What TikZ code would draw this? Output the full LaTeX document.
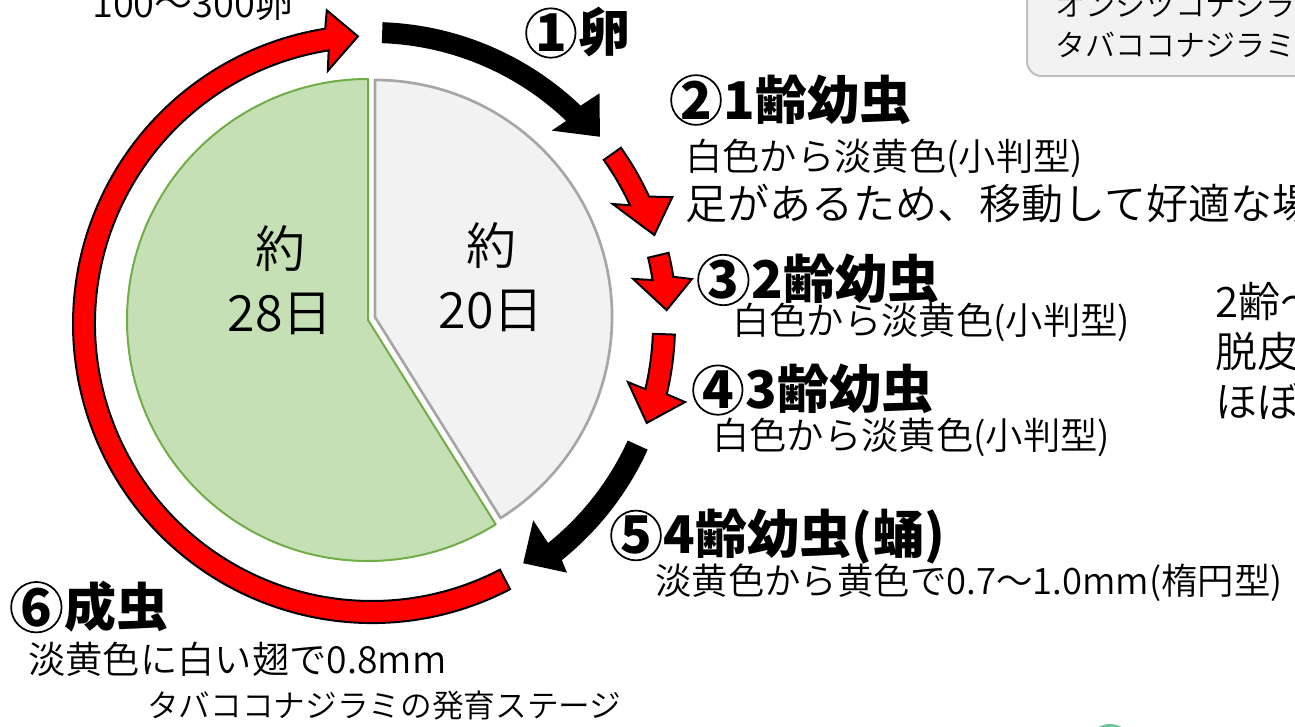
\documentclass[tikz,border=0pt]{standalone}
\usepackage{fontspec}
\setmainfont{Noto Sans CJK JP}
\IfFontExistsTF{Noto Sans CJK JP DemiLight}
  {\newfontfamily\lightjp{Noto Sans CJK JP DemiLight}}
  {\newfontfamily\lightjp{Noto Sans CJK JP}}
\usetikzlibrary{calc}
\definecolor{greenfill}{HTML}{C5E0B4}
\definecolor{greenline}{HTML}{70AD47}
\definecolor{grayfill}{HTML}{F2F2F2}
\definecolor{grayline}{HTML}{A6A6A6}
\definecolor{boxfill}{HTML}{F2F2F2}
\definecolor{boxline}{HTML}{BFBFBF}
\definecolor{blobgreen}{HTML}{6CC49A}
\newcommand{\cnum}[1]{\tikz[baseline=(cnx.base)]\node[circle,draw,line width=1.3pt,inner sep=0pt,minimum size=0.95em] (cnx) {#1};\hspace{0.04em}}
\begin{document}
\begin{tikzpicture}[x=0.75pt,y=-0.75pt,
  head/.style={font=\fontsize{39}{42}\selectfont\bfseries, anchor=west, inner sep=0pt},
  body/.style={font=\fontsize{28}{30}\selectfont\lightjp, anchor=west, inner sep=0pt},
  pielabel/.style={font=\fontsize{37.5}{48}\selectfont\lightjp, align=center, inner sep=0pt},
  redarrow/.style={fill=red, draw=black, line width=1.5pt, line join=miter},
  blackarrow/.style={fill=black, draw=none}]
\useasboundingbox (0,0) rectangle (1295,726);
\coordinate (R) at (372,324);

% pie
\filldraw[fill=greenfill, draw=greenline, line width=1.5pt, line join=round]
  (368,320) -- ++(-90:241) arc[start angle=-90, end angle=-302, radius=241] -- cycle;
\filldraw[fill=grayfill, draw=grayline, line width=2pt, line join=round]
  (375,317) -- ++(58:237) arc[start angle=58, end angle=-90, radius=237] -- cycle;
\node[pielabel] (g) at (280,280) {約\\28日};
\node[pielabel] (w) at (491,277) {約\\20日};

% big red arc arrow
\path[redarrow] ($(R)+(62.5:299)$) arc[start angle=62.5, end angle=261, radius=299]
  -- ($(R)+(261.8:317)$) -- ($(R)+(267.2:288)$) -- ($(R)+(260.1:257)$)
  -- ($(R)+(261:277)$) arc[start angle=261, end angle=62.5, radius=277] -- cycle;

% black arrow 1
\path[blackarrow] ($(R)+(-88:302)$) arc[start angle=-88, end angle=-46.3, radius=302]
  -- ($(R)+(-45.4:324)$) -- ($(R)+(-39.4:295)$) -- ($(R)+(-47.1:264)$)
  -- ($(R)+(-46.3:281)$) arc[start angle=-46.3, end angle=-88, radius=281] -- cycle;

% red arrow A
\path[redarrow] ($(R)+(-35.3:305)$) arc[start angle=-35.3, end angle=-24.7, radius=305]
  -- ($(R)+(-22.9:326)$) -- ($(R)+(-17.5:296)$) -- ($(R)+(-26.5:269)$)
  -- ($(R)+(-24.7:284)$) arc[start angle=-24.7, end angle=-35.3, radius=284] -- cycle;

% red arrow B
\path[redarrow] ($(R)+(-13.5:305)$) arc[start angle=-13.5, end angle=-8.9, radius=305]
  -- ($(R)+(-8:323)$) -- ($(R)+(-2.7:295)$) -- ($(R)+(-9.8:265)$)
  -- ($(R)+(-8.9:284)$) arc[start angle=-8.9, end angle=-13.5, radius=284] -- cycle;

% red arrow C
\path[redarrow] ($(R)+(2:303)$) arc[start angle=2, end angle=13.4, radius=303]
  -- ($(R)+(14:322.6)$) -- ($(R)+(19.8:292)$) -- ($(R)+(12.8:262.5)$)
  -- ($(R)+(13.4:281)$) arc[start angle=13.4, end angle=2, radius=281] -- cycle;

% black arrow 5
\path[blackarrow] ($(R)+(24.5:303)$) arc[start angle=24.5, end angle=51.2, radius=303]
  -- ($(R)+(51.9:316)$) -- ($(R)+(57.7:283)$) -- ($(R)+(50.6:254)$)
  -- ($(R)+(51.2:281)$) arc[start angle=51.2, end angle=24.5, radius=281] -- cycle;

% labels
\node[body, font=\fontsize{28.5}{32}\selectfont\lightjp] (eggs) at (92,3) {100～300卵};
\node[head] (s1) at (525,33) {\cnum{1}卵};
\node[head] (s2) at (670,100) {\cnum{2}1齢幼虫};
\node[body] (d2a) at (685,158) {白色から淡黄色(小判型)};
\node[body, font=\fontsize{31.5}{33}\selectfont\lightjp] (d2b) at (685,204) {足があるため、移動して好適な場};
\node[head] (s3) at (697,280) {\cnum{3}2齢幼虫};
\node[body] (d3) at (732,322) {白色から淡黄色(小判型)};
\node[head] (s4) at (692,390) {\cnum{4}3齢幼虫};
\node[body] (d4) at (712,437) {白色から淡黄色(小判型)};
\node[head] (s5) at (610,537) {\cnum{5}4齢幼虫(蛹)};
\node[body, font=\fontsize{27.3}{30}\selectfont\lightjp] (d5) at (655,583) {淡黄色から黄色で0.7～1.0mm(楕円型)};
\node[head] (s6) at (10,607) {\cnum{6}成虫};
\node[body] (d6) at (28,659) {淡黄色に白い翅で0.8mm};
\node[body, font=\fontsize{23.75}{26}\selectfont\lightjp] (cap) at (147,706) {タバココナジラミの発育ステージ};

% top-right box
\draw[fill=boxfill, draw=boxline, line width=1.5pt, rounded corners=11pt] (1027,-40) rectangle (1340,76);
\node[body, font=\fontsize{22.5}{24}\selectfont\lightjp] (b1) at (1055,5) {オンシツコナジラミ};
\node[body, font=\fontsize{22.5}{24}\selectfont\lightjp] (b2) at (1055,45) {タバココナジラミ};

% right-side text
\node[body, font=\fontsize{31.5}{33}\selectfont\lightjp] (r1) at (1215,302) {2齢～};
\node[body, font=\fontsize{31.5}{33}\selectfont\lightjp] (r2) at (1215,352) {脱皮};
\node[body, font=\fontsize{31.5}{33}\selectfont\lightjp] (r3) at (1215,401) {ほぼ};

% partial green blob at bottom
\fill[blobgreen] (1110,770) ellipse [x radius=32, y radius=46];
\end{tikzpicture}
\end{document}
